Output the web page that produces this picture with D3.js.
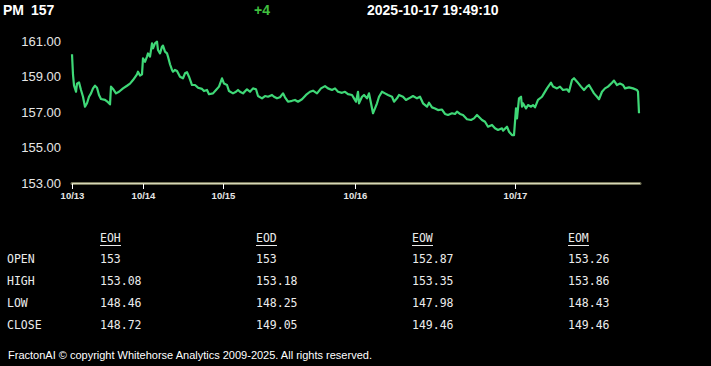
<!DOCTYPE html>
<html>
<head>
<meta charset="utf-8">
<script src="https://cdn.jsdelivr.net/npm/d3@7"></script>
<style>
  html, body { margin: 0; padding: 0; background: #000; }
  svg { display: block; }
</style>
</head>
<body>
<svg id="chart" width="711" height="366"></svg>
<script>
// ---- header ----
const symbol = "PM";
const lastPrice = "157";
const change = "+4";
const stamp = "2025-10-17 19:49:10";

// ---- price series (intraday bar index, price) ----
const bars = [0,1,2,4,5,7,9,11,13,15,17,19,21,23,25,27,29,33,36,38,39,41,44,47,51,55,58,61,65,66,68,70,71,73,75,76,78,80,81,83,85,86,88,90,91,93,95,96,98,100,101,103,105,108,111,113,115,117,120,123,126,130,132,135,137,141,144,147,150,152,155,157,161,164,166,
168,171,175,178,181,184,186,190,193,196,200,202,205,208,211,213,216,220,223,226,230,234,238,241,245,249,253,256,260,263,266,270,273,276,280,282,284,286,287,290,292,295,297,299,301,303,305,307,310,313,316,320,322,325,327,331,334,337,341,345,348,351,355,357,360,363,366,370,373,376,380,383,385,388,391,395,399,402,405,
410,413,416,420,423,426,430,431,435,437,440,442,444,445,447,449,450,451,454,456,459,461,463,466,470,472,475,479,481,485,488,491,495,497,500,502,505,509,512,515,517,520,522,525,527,530,533,536,540,542,545,548,551,553,557,561,565,566,567];
const prices = [160.25,159.10,158.50,158.14,158.60,158.67,158.24,157.86,157.30,157.49,157.86,158.05,158.33,158.48,158.37,157.96,157.73,157.68,157.55,157.43,158.43,158.30,158.05,158.14,158.33,158.48,158.60,158.80,159.12,159.27,159.05,159.12,160.02,159.83,160.12,160.30,160.12,160.87,160.59,160.87,160.96,160.49,160.30,160.68,160.74,160.40,160.30,160.12,159.69,159.37,159.27,159.37,159.31,158.99,158.90,159.18,159.24,158.99,158.52,158.52,158.37,158.30,158.18,158.24,158.00,158.05,158.24,158.43,158.90,158.60,158.52,158.18,158.05,158.14,158.24,
158.14,158.05,158.28,158.14,158.33,158.28,157.90,157.77,157.90,157.86,157.96,157.86,157.77,157.83,158.05,157.83,157.58,157.63,157.68,157.58,157.72,157.96,158.14,158.20,158.05,158.33,158.46,158.33,158.24,158.33,158.14,158.08,158.14,158.01,157.96,157.77,157.58,158.14,157.49,157.86,157.96,157.77,158.05,157.49,156.93,157.20,157.49,157.86,158.14,158.05,157.96,157.86,157.58,157.77,157.96,157.86,157.68,157.77,157.90,157.77,157.86,157.49,157.30,157.52,157.26,157.20,157.11,157.14,156.89,156.83,156.93,156.89,157.02,156.89,156.83,156.59,156.55,156.64,156.83,
156.55,156.45,156.17,156.27,156.08,155.99,156.08,155.95,156.17,155.89,155.70,155.70,157.20,156.64,157.77,157.86,157.30,157.49,157.20,157.39,157.30,157.39,157.26,157.68,157.86,158.05,158.33,158.65,158.43,158.33,158.43,158.24,158.28,158.14,158.80,158.90,158.71,158.43,158.24,158.43,158.52,158.24,158.05,157.86,157.72,158.14,158.33,158.43,158.65,158.77,158.52,158.60,158.52,158.33,158.39,158.33,158.24,158.14,156.93];

// ---- axes ----
const yTicks = [153, 155, 157, 159, 161];
const dayTickBars = [0, 71, 151, 283, 443];
const dayTickLabels = ["10/13", "10/14", "10/15", "10/16", "10/17"];
const barCount = 567;

// ---- summary table ----
const tableCols = ["EOH", "EOD", "EOW", "EOM"];
const tableRows = ["OPEN", "HIGH", "LOW", "CLOSE"];
const openVals  = ["153", "153", "152.87", "153.26"];
const highVals  = ["153.08", "153.18", "153.35", "153.86"];
const lowVals   = ["148.46", "148.25", "147.98", "148.43"];
const closeVals = ["148.72", "149.05", "149.46", "149.46"];
const footer = "FractonAI \u00A9 copyright Whitehorse Analytics 2009-2025. All rights reserved.";

const svg = d3.select("#chart");
svg.append("rect").attr("width", 711).attr("height", 366).attr("fill", "#000");

// header
const hdr = svg.append("g").attr("font-family", "Liberation Sans, Arial, sans-serif")
  .attr("font-weight", "bold").attr("font-size", 14);
hdr.append("text").attr("x", 3).attr("y", 15).attr("fill", "#fff").text(symbol);
hdr.append("text").attr("x", 31).attr("y", 15).attr("fill", "#fff").text(lastPrice);
hdr.append("text").attr("x", 254).attr("y", 15).attr("fill", "#3fbf3f").text(change);
hdr.append("text").attr("x", 367).attr("y", 15).attr("fill", "#fff").text(stamp);

// scales
const x = d3.scaleLinear().domain([0, barCount]).range([72, 639]);
const y = d3.scaleLinear().domain([153, 161]).range([183, 41]);

// y labels
svg.append("g")
  .attr("font-family", "Liberation Sans, Arial, sans-serif").attr("font-size", 13)
  .attr("fill", "#e6e6e6")
  .selectAll("text").data(yTicks).join("text")
  .attr("x", 61).attr("y", d => y(d)).attr("dy", "0.36em")
  .attr("text-anchor", "end")
  .text(d => d3.format(".2f")(d));

// x axis line (double)
const xAxisG = svg.append("g");
xAxisG.append("line").attr("x1", x(0)).attr("x2", x(barCount) + 1)
  .attr("y1", y(153) + 0.5).attr("y2", y(153) + 0.5)
  .attr("stroke", "#76765a").attr("stroke-width", 3).attr("stroke-linecap", "round");
xAxisG.append("line").attr("x1", x(0)).attr("x2", x(barCount) + 1)
  .attr("y1", y(153) + 0.5).attr("y2", y(153) + 0.5)
  .attr("stroke", "#d6d6b8").attr("stroke-width", 1);

const axis = d3.axisBottom(x).tickValues(dayTickBars)
  .tickFormat((d, i) => dayTickLabels[i]).tickSize(5).tickPadding(3);
const ax = svg.append("g").attr("transform", `translate(0,${y(153) + 1})`).call(axis);
ax.select(".domain").remove();
ax.selectAll(".tick line").attr("stroke", "#fff");
ax.selectAll(".tick text").attr("fill", "#e6e6e6")
  .attr("font-family", "Liberation Sans, Arial, sans-serif").attr("font-size", 9.5)
  .attr("font-weight", "bold");

// price line
const pts = bars.map((b, i) => [b, prices[i]]);
svg.append("path").datum(pts)
  .attr("fill", "none").attr("stroke", "#3fd877").attr("stroke-width", 2.2)
  .attr("stroke-linejoin", "round")
  .attr("d", d3.line().x(d => x(d[0])).y(d => y(d[1])));

// table
const colX = d3.scalePoint().domain(tableCols).range([100, 568]);
const rowY = d3.scalePoint().domain(tableRows).range([263, 329]);
const tbl = svg.append("g").attr("font-family", "DejaVu Sans Mono, monospace")
  .attr("font-size", 11.5).attr("fill", "#ececec");
tbl.selectAll("text.hd").data(tableCols).join("text").attr("class", "hd")
  .attr("x", d => colX(d)).attr("y", 242).text(d => d);
tbl.selectAll("line.ul").data(tableCols).join("line").attr("class", "ul")
  .attr("x1", d => colX(d)).attr("x2", d => colX(d) + 21)
  .attr("y1", 245.5).attr("y2", 245.5).attr("stroke", "#ececec").attr("stroke-width", 1);
tbl.selectAll("text.rl").data(tableRows).join("text").attr("class", "rl")
  .attr("x", 7).attr("y", d => rowY(d)).text(d => d);
const rowVals = [openVals, highVals, lowVals, closeVals];
tableRows.forEach((r, ri) => {
  tbl.selectAll(null).data(rowVals[ri]).join("text")
    .attr("x", (d, ci) => colX(tableCols[ci])).attr("y", rowY(r)).text(d => d);
});

// footer
svg.append("text").attr("x", 8).attr("y", 359)
  .attr("font-family", "Liberation Sans, Arial, sans-serif").attr("font-size", 11)
  .attr("fill", "#fff").text(footer);
</script>
</body>
</html>
